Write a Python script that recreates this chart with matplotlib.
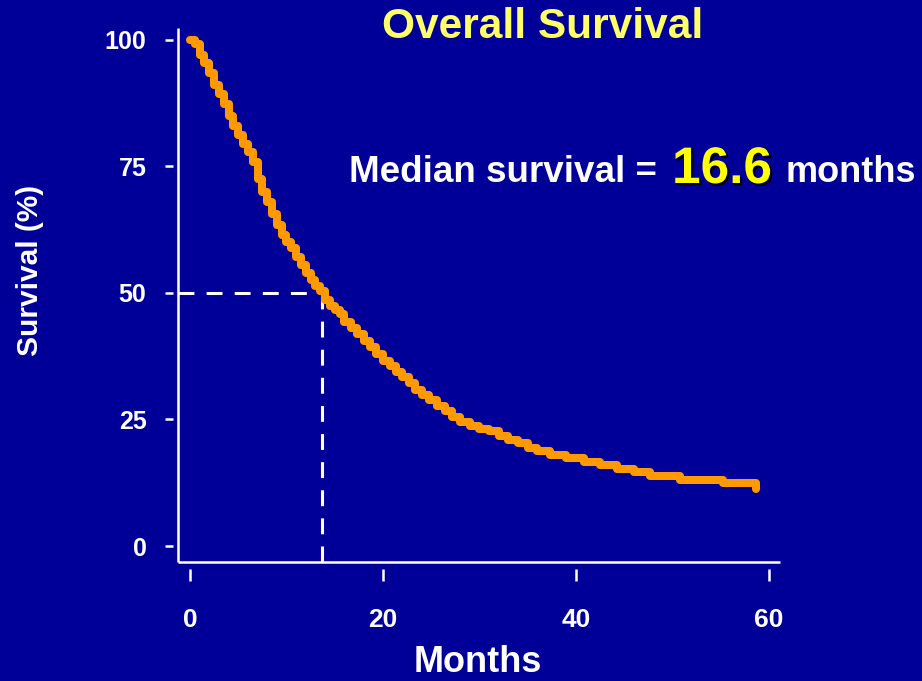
import matplotlib
matplotlib.use("Agg")
import matplotlib.pyplot as plt
import matplotlib.patheffects as pe

# ---- data ----
months = [0, 0.5, 1.0, 1.5, 2.0, 2.5, 3.0, 3.5, 4.0, 4.5, 5.0, 5.5, 6.0, 6.5, 7.0,
          7.5, 8.0, 8.5, 9.0, 9.5, 10.0, 10.5, 11.0, 11.5, 12.0, 12.5, 13.0, 13.5,
          14.0, 14.5, 15.0, 15.5, 16.0, 16.7, 17.3, 18.0, 18.7, 19.3, 20.0, 20.7,
          21.3, 22.0, 22.7, 23.3, 24.0, 24.8, 25.6, 26.4, 27.2, 28.0, 29.0, 30.0,
          31.0, 32.0, 33.0, 34.0, 35.0, 36.0, 37.3, 39.0, 40.8, 42.5, 44.2, 46.0,
          47.7, 50.8, 55.2, 58.7]
survival = [100, 99.3, 97.0, 95.5, 93.5, 91.2, 89.3, 87.3, 85.0, 83.0, 81.2, 79.5,
            77.8, 75.8, 72.5, 70.0, 68.0, 65.7, 63.5, 61.5, 60.0, 58.8, 57.2, 55.6,
            54.0, 52.5, 51.4, 50.3, 48.6, 47.4, 46.7, 45.8, 44.3, 43.0, 41.8, 40.5,
            39.3, 38.0, 36.6, 35.5, 34.3, 33.3, 32.2, 30.8, 29.9, 28.8, 27.6, 26.6,
            25.5, 24.6, 23.8, 23.2, 22.7, 21.7, 21.0, 20.3, 19.4, 18.8, 18.0, 17.4,
            16.6, 16.0, 15.2, 14.6, 13.8, 13.1, 12.4, 11.7]
end_month = [58.7, 58.7]
end_surv = [11.7, 11.3]
median_plot_x = 13.7
median_y = 50
x_ticks = [0, 20, 40, 60]
y_ticks = [0, 25, 50, 75, 100]

BG = "#000099"
ORANGE = "#FF9900"
W, H = 922, 681

plt.rcParams['font.family'] = ['Liberation Sans', 'DejaVu Sans']
plt.rcParams['font.weight'] = 'bold'

fig = plt.figure(figsize=(W / 100, H / 100), dpi=100, facecolor=BG)
ax = fig.add_axes([178 / W, (H - 562) / H, (780 - 178) / W, (562 - 28) / H])
ax.set_facecolor(BG)

xmin, xmax = -1.2435, 61.14
ymin, ymax = -3.162, 102.37
ax.set_xlim(xmin, xmax)
ax.set_ylim(ymin, ymax)

# survival curve
ax.plot(months, survival, drawstyle='steps-post', color=ORANGE, lw=5.8,
        solid_capstyle='round', solid_joinstyle='round', zorder=3)
ax.plot(end_month, end_surv, color=ORANGE, lw=5.8, solid_capstyle='round', zorder=3)

# median dashed guides
dash = (0, (5.2, 4.0))
ax.plot([xmin, median_plot_x], [median_y, median_y], color='white', lw=2.2,
        linestyle=dash, zorder=2, clip_on=False)
ax.plot([median_plot_x, median_plot_x], [median_y, ymin], color='white', lw=2.2,
        linestyle=dash, zorder=2, clip_on=False)

# axis lines
ax.plot([0, 0], [0, 1], transform=ax.transAxes, color='white', lw=1.8,
        clip_on=False, solid_capstyle='butt')
ax.plot([0, 1], [0, 0], transform=ax.transAxes, color='white', lw=1.8,
        clip_on=False, solid_capstyle='butt')

for s in ax.spines.values():
    s.set_visible(False)
ax.spines['left'].set_position(('outward', 3.6))
ax.spines['bottom'].set_position(('outward', 5.0))

ax.set_xticks(x_ticks)
ax.set_yticks(y_ticks)
ax.tick_params(axis='y', direction='out', length=6.1, width=1.8, color='white',
               labelcolor='white', labelsize=18, pad=13)
ax.tick_params(axis='x', direction='out', length=8.3, width=1.8, color='white',
               labelcolor='white', labelsize=19, pad=20)
for lab in ax.get_xticklabels() + ax.get_yticklabels():
    lab.set_fontweight('bold')

# texts
def fx(px):
    return px / W

def fy(py):
    return (H - py) / H

fig.text(fx(543), fy(38), "Overall Survival", color="#FFFF66", fontsize=30.5,
         fontweight='bold', ha='center', va='baseline')
fig.text(fx(349), fy(182), "Median survival =", color='white', fontsize=26.5,
         fontweight='bold', ha='left', va='baseline')
fig.text(fx(672), fy(183), "16.6", color='#FFFF00', fontsize=37,
         fontweight='bold', ha='left', va='baseline',
         path_effects=[pe.withSimplePatchShadow(offset=(1.6, -1.6),
                                                shadow_rgbFace='black', alpha=1.0)])
fig.text(fx(786), fy(182), "months", color='white', fontsize=26,
         fontweight='bold', ha='left', va='baseline')
fig.text(fx(478), fy(672), "Months", color='white', fontsize=26,
         fontweight='bold', ha='center', va='baseline')
fig.text(fx(30), fy(270), "Survival (%)", color='white', fontsize=21.5,
         fontweight='bold', ha='center', va='center', rotation=90)

fig.savefig("out.png", dpi=100, facecolor=BG)
